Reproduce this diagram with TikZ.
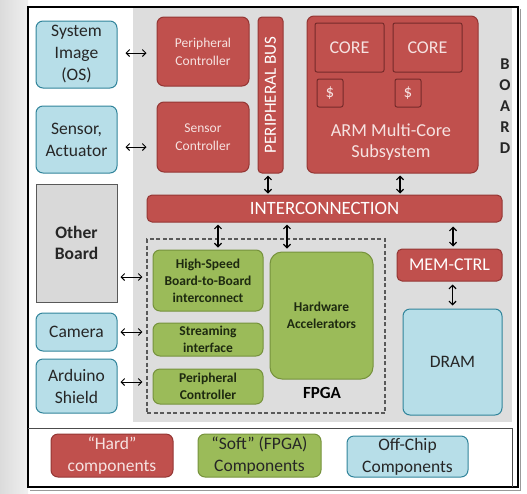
\documentclass[tikz,border=0pt]{standalone}
\usepackage{fontspec}
\setmainfont{Carlito}
\usetikzlibrary{arrows.meta}

\definecolor{hardfill}{HTML}{C0504D}
\definecolor{hardline}{HTML}{943634}
\definecolor{hardtext}{HTML}{F6E2E1}
\definecolor{softfill}{HTML}{9BBB59}
\definecolor{softline}{HTML}{76923C}
\definecolor{softtext}{HTML}{1E2A10}
\definecolor{offfill}{HTML}{B7DEE8}
\definecolor{offline}{HTML}{31849B}
\definecolor{boardgray}{HTML}{DDDDDD}
\definecolor{othergray}{HTML}{D9D9D9}
\definecolor{inktext}{HTML}{262626}

\begin{document}
\begin{tikzpicture}[x=1pt,y=-1pt,
  box/.style={rounded corners=7pt, inner sep=0pt, align=center, line width=1pt},
  hard/.style={box, draw=hardline, fill=hardfill, text=white},
  hardsq/.style={hard, rounded corners=2pt, draw=hardline!80!black},
  soft/.style={box, draw=softline, fill=softfill, text=softtext,
    font=\fontsize{13.5}{17}\selectfont\bfseries},
  offchip/.style={box, draw=offline, fill=offfill, text=inktext,
    font=\fontsize{17.5}{22}\selectfont},
  legendbox/.style={box, font=\fontsize{17.5}{22}\selectfont},
  biarrow/.style={line width=0.9pt, draw=black,
    {Straight Barb[length=3.5pt,width=7pt]}-{Straight Barb[length=3.5pt,width=7pt]}},
  vbiarrow/.style={biarrow, line width=1.2pt}
]
\useasboundingbox (0,0) rectangle (527,493);

% page backdrop and frames
\shade[left color=black!14, right color=black!6] (0,0) rectangle (28,493);
\fill[boardgray] (133,7) rectangle (512,422);
\draw[black!40, line width=1pt] (30,490) -- (520,490) -- (520,9);
\draw[black, line width=1.2pt] (28,7) rectangle (518,487);
\draw[black!70, line width=0.8pt] (28,428) -- (512,428) -- (512,487);

% off-chip components
\node[offchip, minimum width=81, minimum height=67] (sys) at (76.5,54.5) {System\\Image\\(OS)};
\node[offchip, minimum width=81, minimum height=67] (sen) at (76.5,139.5) {Sensor,\\Actuator};
\node[box, draw=black!65, fill=othergray, rounded corners=0pt, minimum width=81, minimum height=118,
  font=\fontsize{17.5}{21}\selectfont\bfseries, text=inktext] (ob) at (76.5,243) {Other\\Board};
\node[offchip, minimum width=81, minimum height=38] (cam) at (76.5,332) {Camera};
\node[offchip, minimum width=81, minimum height=54] (ard) at (76.5,386) {Arduino\\Shield};
\node[offchip, minimum width=99, minimum height=106] (dram) at (452.5,362) {DRAM};

% hard components
\node[hard, minimum width=92, minimum height=69, text=hardtext,
  font=\fontsize{13.5}{18}\selectfont] (pc) at (203,51.5) {Peripheral\\Controller};
\node[hard, minimum width=92, minimum height=70, text=hardtext,
  font=\fontsize{13.5}{18}\selectfont] (sc) at (203,137) {Sensor\\Controller};
\node[hard, rounded corners=4pt, rotate=90, minimum width=156, minimum height=25,
  font=\fontsize{17}{19}\selectfont] (bus) at (270.5,95) {PERIPHERAL BUS};
\node[hard, minimum width=171, minimum height=157] (arm) at (392.5,94.5) {};
\node[hardsq, minimum width=69, minimum height=49, text=hardtext,
  font=\fontsize{18}{20}\selectfont] (core1) at (349.5,47.5) {CORE};
\node[hardsq, minimum width=69, minimum height=49, text=hardtext,
  font=\fontsize{18}{20}\selectfont] (core2) at (427.5,47.5) {CORE};
\node[hardsq, minimum width=26, minimum height=28, text=hardtext,
  font=\fontsize{17}{19}\selectfont] (cache1) at (330,93) {\$};
\node[hardsq, minimum width=26, minimum height=28, text=hardtext,
  font=\fontsize{17}{19}\selectfont] (cache2) at (408,93) {\$};
\node[align=center, text=hardtext, font=\fontsize{18.3}{20.5}\selectfont] (armlabel) at (391,142)
  {ARM Multi-Core\\Subsystem};
\node[hard, rounded corners=5pt, minimum width=355, minimum height=27,
  font=\fontsize{18.8}{20}\selectfont] (ic) at (324.5,208.5) {INTERCONNECTION};
\node[hard, rounded corners=5pt, minimum width=105, minimum height=32,
  font=\fontsize{18}{20}\selectfont] (mem) at (449.5,265) {MEM-CTRL};

% board label
\node[align=center, text=inktext, font=\fontsize{16.5}{21}\selectfont\bfseries] (board) at (505,106)
  {B\\O\\A\\R\\D};

% FPGA region
\node[draw=black!65, dashed, dash pattern=on 4pt off 2.5pt, line width=1.2pt, inner sep=0pt,
  minimum width=238, minimum height=174] (fpga) at (266,326) {};
\node[soft, minimum width=110, minimum height=61] (hs) at (208,280.5) {High-Speed\\Board-to-Board\\interconnect};
\node[soft, minimum width=110, minimum height=33] (stream) at (208,339.5) {Streaming\\interface};
\node[soft, minimum width=110, minimum height=35] (gpc) at (208,386.5) {Peripheral\\Controller};
\node[soft, rounded corners=12pt, minimum width=103, minimum height=127] (hw) at (321.5,315.5) {Hardware\\Accelerators};
\node[font=\fontsize{17}{20}\selectfont\bfseries, text=black] (fpgalabel) at (322,393) {FPGA};

% connectors
\draw[biarrow, shorten <=8pt, shorten >=10pt] ([yshift=1.5pt]sys.east) -- ([yshift=1.5pt]sys.east -| pc.west);
\draw[biarrow, shorten <=8pt, shorten >=10pt] ([yshift=-7.5pt]sen.east) -- ([yshift=-7.5pt]sen.east -| sc.west);
\draw[vbiarrow, shorten <=2pt, shorten >=1pt] ([xshift=-2.5pt]bus.west) -- ([xshift=-2.5pt]bus.west |- ic.north);
\draw[vbiarrow, shorten <=2pt, shorten >=1pt] ([xshift=7.5pt]arm.south) -- ([xshift=7.5pt]arm.south |- ic.north);
\draw[vbiarrow, shorten <=2pt, shorten >=2pt] ([xshift=10pt]hs.north |- ic.south) -- ([xshift=10pt]hs.north);
\draw[vbiarrow, shorten <=2pt, shorten >=3pt] ([xshift=-34.5pt]hw.north |- ic.south) -- ([xshift=-34.5pt]hw.north);
\draw[vbiarrow, shorten <=4pt, shorten >=2pt] ([xshift=3.5pt]mem.north |- ic.south) -- ([xshift=3.5pt]mem.north);
\draw[vbiarrow, shorten <=3pt, shorten >=3pt] ([xshift=3pt]mem.south) -- ([xshift=3pt]mem.south |- dram.north);
\draw[biarrow, shorten <=3pt, shorten >=4pt] ([yshift=3.5pt]ob.east |- hs.west) -- ([yshift=3.5pt]hs.west -| fpga.west);
\draw[biarrow, shorten <=3pt, shorten >=4pt] (cam.east) -- (cam.east -| fpga.west);
\draw[biarrow, shorten <=3pt, shorten >=4pt] ([yshift=4pt]ard.east) -- ([yshift=4pt]ard.east -| fpga.west);

% legend
\node[legendbox, draw=hardline, fill=hardfill, text=hardtext, minimum width=122, minimum height=43] (lhard) at (112,455.5) {“Hard”\\components};
\node[legendbox, draw=softline, fill=softfill, text=inktext, minimum width=123, minimum height=43] (lsoft) at (259.5,455.5) {“Soft” (FPGA)\\Components};
\node[legendbox, draw=offline, fill=offfill, text=inktext, minimum width=121, minimum height=41] (loff) at (407.5,456.5) {Off-Chip\\Components};
\end{tikzpicture}
\end{document}
